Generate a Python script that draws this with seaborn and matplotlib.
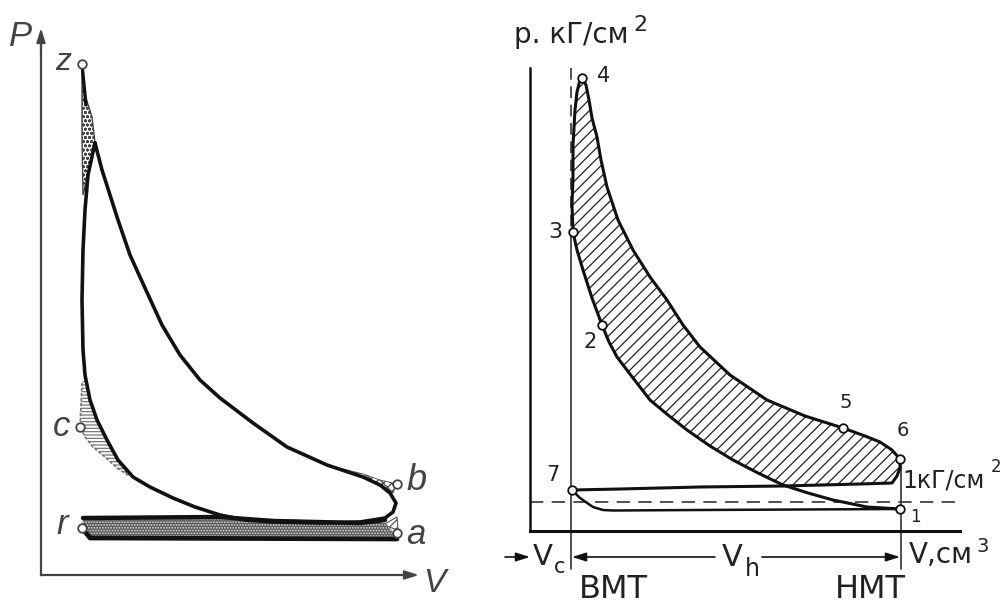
import matplotlib
matplotlib.use("Agg")
import matplotlib.pyplot as plt
import seaborn as sns

# ---- left diagram: volume / pressure ----
loop_v = [54, 61, 69, 77, 89, 104, 121, 139, 159, 179, 212, 246, 286, 322, 339, 349, 355, 352, 344, 319, 279, 232, 204, 179, 154, 132, 109, 92, 77, 66, 56, 49, 44, 42, 41, 42, 44, 47, 54]
loop_p = [432, 405, 380, 355, 320, 287, 250, 220, 195, 177, 152, 128, 110, 98, 90, 82, 72, 63, 57, 53, 52, 53, 55, 60, 68, 77, 88, 98, 115, 135, 155, 175, 200, 225, 275, 325, 365, 400, 432]
z_stem_v = [41, 43, 45]
z_stem_p = [511, 490, 470]
top_v = [41, 44, 51, 54, 47, 42, 41, 41]
top_p = [511, 480, 458, 432, 400, 380, 440, 480]
comp_v = [41, 39, 44, 52, 64, 76, 87, 77, 66, 56, 49, 44, 41]
comp_p = [192, 148, 138, 128, 118, 107, 100, 115, 135, 155, 175, 200, 192]
expn_v = [286, 322, 339, 356, 352, 339, 322, 286]
expn_p = [110, 101, 95, 91, 82, 90, 98, 110]
pump_v = [41, 42, 179, 345, 356, 49, 41]
pump_p = [47, 57, 58, 52, 37, 37, 47]
inlet_v = [342, 356, 357, 342]
inlet_p = [50, 58, 45, 50]
pump_top_v = [42, 179, 232, 319, 344]
pump_top_p = [57, 58, 54, 52, 55]
pump_low_v = [41, 49, 356]
pump_low_p = [47, 37, 36]
points_l_v = [41, 39, 356, 356, 41]
points_l_p = [511, 148, 91, 42, 47]

# ---- right diagram ----
upper_v = [52, 56, 59, 62, 67, 71, 77, 88, 103, 120, 137, 153, 170, 200, 237, 275, 313, 335, 350, 362, 370, 370, 367, 362, 330, 253, 170, 90, 42]
upper_p = [453, 446, 431, 413, 394, 371, 344, 311, 281, 254, 231, 206, 184, 156, 131, 115, 103, 95, 89, 81, 72, 63, 55, 48, 47, 45, 44, 42, 41]
exhaust_v = [42, 50, 63, 73, 83, 170, 370]
exhaust_p = [41, 33, 24, 21, 20.5, 21, 22]
lower_v = [370, 337, 303, 278, 253, 228, 203, 180, 157, 138, 120, 103, 87, 79, 72, 62, 53, 47, 43, 42, 43, 43, 45, 47, 50, 52]
lower_p = [22, 24, 31, 38, 46, 58, 71, 85, 101, 116, 131, 153, 174, 189, 206, 233, 261, 281, 299, 326, 354, 386, 421, 439, 451, 453]
hatch_v = [52, 56, 59, 62, 67, 71, 77, 88, 103, 120, 137, 153, 170, 200, 237, 275, 313, 335, 350, 362, 370, 370, 367, 362, 330, 253, 228, 203, 180, 157, 138, 120, 103, 87, 79, 72, 62, 53, 47, 43, 42, 43, 43, 45, 47, 50]
hatch_p = [453, 446, 431, 413, 394, 371, 344, 311, 281, 254, 231, 206, 184, 156, 131, 115, 103, 95, 89, 81, 72, 63, 55, 48, 47, 45, 58, 71, 85, 101, 116, 131, 153, 174, 189, 206, 233, 261, 281, 299, 326, 354, 386, 421, 439, 451]
points_r_v = [52, 43, 72, 313, 370, 370, 42]
points_r_p = [453, 299, 206, 103, 72, 22, 41]
vc = 41
vnmt = 371
atm = 29

labels_left = [("P", -21, 538, 25), ("z", 22, 513, 23), ("c", 21, 149, 25), ("r", 21, 50, 25),
               ("a", 375, 40, 25), ("b", 376, 94, 26), ("V", 393, -9, 24)]
labels_right = [("4", 74, 455, 15), ("3", 25, 299, 16), ("2", 60, 189, 15), ("5", 316, 128, 14),
                ("6", 373, 100, 14), ("7", 23, 56, 15), ("1", 385, 14, 12),
                ("р. кГ/см", 41, 496, 20), ("2", 110, 506, 16),
                ("1кГ/см", 414, 51, 17), ("2", 466, 64, 12),
                ("V,см", 411, -24, 20), ("3", 453, -15, 14),
                ("V", 13, -26, 21), ("c", 30, -36, 15), ("V", 202, -27, 22), ("h", 222, -38, 17),
                ("ВМТ", 83, -59, 23), ("НМТ", 340, -59, 23)]

sns.set_theme(style="white")
plt.rcParams["font.family"] = ["DejaVu Sans"]
plt.rcParams["hatch.linewidth"] = 0.9
fig = plt.figure(figsize=(10.02, 6.08), dpi=100)
axl = fig.add_axes([0, 0, 480 / 1002, 1])
axr = fig.add_axes([480 / 1002, 0, 522 / 1002, 1])
axl.set(xlim=(-41, 439), ylim=(-33, 575))
axr.set(xlim=(-50, 472), ylim=(-77, 531))

for ax in (axl, axr):
    ax.set_xticks([]); ax.set_yticks([])
    ax.patch.set_alpha(0)
    for s in ("top", "right"):
        ax.spines[s].set_visible(False)
    for s in ("left", "bottom"):
        ax.spines[s].set_position(("data", 0))

INK = "#111111"
GREY = "#444444"


def curve(ax, v, p, lw=2.2, color=INK, **kw):
    sns.lineplot(x=v, y=p, sort=False, estimator=None, errorbar=None, ax=ax,
                 color=color, linewidth=lw, legend=False, **kw)


def circles(ax, v, p, ec=INK):
    sns.scatterplot(x=v, y=p, ax=ax, s=38, color="white", edgecolor=ec, linewidth=1.3, zorder=6, legend=False)


def arrow(ax, a, b, color=INK, lw=1.2):
    ax.annotate("", xy=b, xytext=a,
                arrowprops=dict(arrowstyle="-|>,head_length=0.7,head_width=0.22", color=color, lw=lw,
                                shrinkA=0, shrinkB=0))


# left diagram
axl.spines["left"].set(bounds=(0, 530), color=GREY, linewidth=1.6)
axl.spines["bottom"].set(bounds=(0, 370), color=GREY, linewidth=1.6)
arrow(axl, (0, 520), (0, 547), GREY, 1.5)
arrow(axl, (360, 0), (378, 0), GREY, 1.5)
axl.fill(top_v, top_p, facecolor="white", edgecolor="#444444", hatch="oooo", linewidth=1.0, zorder=2)
axl.fill(comp_v, comp_p, facecolor="white", edgecolor="#777777", hatch="-----", linewidth=0, zorder=2)
curve(axl, comp_v[:8], comp_p[:8], lw=1.2, color="#777777", linestyle=(0, (2, 1)))
axl.fill(expn_v, expn_p, facecolor="white", edgecolor="#444444", hatch="xxxx", linewidth=0.6, zorder=2)
axl.fill(inlet_v, inlet_p, facecolor="white", edgecolor="#555555", hatch="////", linewidth=0.8, zorder=2)
axl.fill(pump_v, pump_p, facecolor="#555555", edgecolor="#dddddd", hatch="......", linewidth=0, zorder=2)
curve(axl, pump_top_v, pump_top_p, lw=3.2)
curve(axl, pump_low_v, pump_low_p, lw=3.4)
curve(axl, z_stem_v, z_stem_p, lw=2.4)
curve(axl, loop_v, loop_p, lw=2.6)
circles(axl, points_l_v, points_l_p, GREY)
for t, x, y, fs in labels_left:
    axl.text(x, y, t, fontsize=fs, style="italic", color=GREY, ha="center", va="center",
             family="Liberation Sans")

# right diagram
axr.spines["left"].set(bounds=(0, 463), color=INK, linewidth=1.8)
axr.spines["bottom"].set(bounds=(0, 430), color=INK, linewidth=2.2)
curve(axr, [vc, vc], [299, -38], lw=1.2, color="#333333")
curve(axr, [vc, vc], [463, 299], lw=1.2, color="#333333", linestyle=(0, (7, 4)))
curve(axr, [vnmt, vnmt], [72, -38], lw=1.2, color="#333333")
curve(axr, [0, 430], [atm, atm], lw=1.2, color="#333333", linestyle=(0, (8, 5)))
axr.fill(hatch_v, hatch_p, facecolor="white", edgecolor="#222222", hatch="///", linewidth=0, zorder=2)
curve(axr, upper_v, upper_p, lw=2.2)
curve(axr, exhaust_v, exhaust_p, lw=1.8)
curve(axr, lower_v, lower_p, lw=2.2)
circles(axr, points_r_v, points_r_p)
curve(axr, [-25, -8], [-26, -26], lw=1.2)
arrow(axr, (-10, -26), (0, -26))
arrow(axr, (185, -26), (vc + 1, -26))
arrow(axr, (232, -26), (vnmt - 1, -26))
for t, x, y, fs in labels_right:
    axr.text(x, y, t, fontsize=fs, color="#222222", ha="center", va="center")

fig.savefig("out.png", dpi=100, facecolor="white")
